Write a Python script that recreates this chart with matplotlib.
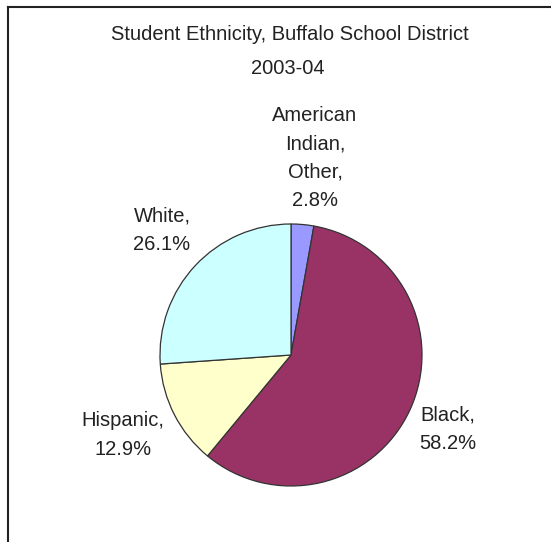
import matplotlib
matplotlib.use('Agg')
import matplotlib.pyplot as plt
from matplotlib.lines import Line2D

# data, clockwise from 12 o'clock
groups = ['American\nIndian,\nOther,', 'Black,', 'Hispanic,', 'White,']
shares = [2.8, 58.2, 12.9, 26.1]
colors = ['#9999FF', '#993366', '#FFFFCC', '#CCFFFF']

plt.rcParams['font.family'] = ['Liberation Sans', 'DejaVu Sans']

W, H = 551, 542
fig = plt.figure(figsize=(W / 100, H / 100), dpi=100)
ax = fig.add_axes([0, 0, 1, 1])

ax.pie(shares, colors=colors, startangle=90, counterclock=False,
       wedgeprops=dict(edgecolor='#333333', linewidth=0.9))

# pie centre and radius in pixels
cx, cy, r = 291, 355, 131
ax.set_xlim(-cx / r, (W - cx) / r)
ax.set_ylim(-(H - cy) / r, cy / r)
ax.set_aspect('equal', adjustable='datalim')
ax.axis('off')

# label spots (pixels), Excel-style best fit
label_px = [(315, 158), (448, 429), (123, 435), (162, 230)]
for name, val, (px, py) in zip(groups, shares, label_px):
    ax.text((px - cx) / r, (cy - py) / r, '%s\n%.1f%%' % (name, val),
            ha='center', va='center', fontsize=14.5, color='#222222',
            linespacing=1.62)

fig.text(290 / W, 1 - 34 / H, 'Student Ethnicity, Buffalo School District',
         ha='center', va='center', fontsize=14.5, color='#222222')
fig.text(288 / W, 1 - 69 / H, '2003-04',
         ha='center', va='center', fontsize=14.5, color='#222222')

# chart area border (left and top edges visible)
fig.add_artist(Line2D([7.5 / W, 7.5 / W], [0, 1 - 6.5 / H], color='#222222', lw=1.5,
                      transform=fig.transFigure))
fig.add_artist(Line2D([7.5 / W, 1], [1 - 6.5 / H, 1 - 6.5 / H], color='#222222', lw=1.5,
                      transform=fig.transFigure))

fig.savefig('out.png', dpi=100)
